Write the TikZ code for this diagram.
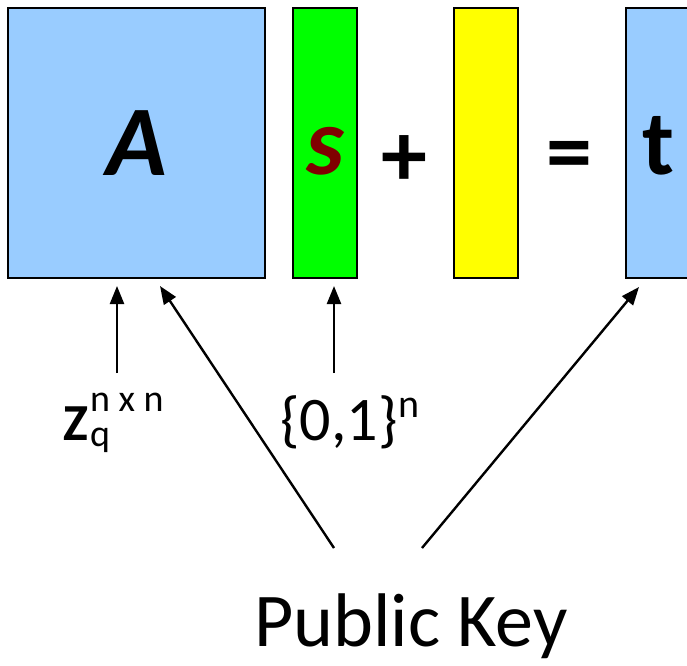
\documentclass[tikz,border=0pt]{standalone}
\usepackage{fontspec}
\setmainfont{Carlito}
\usetikzlibrary{arrows.meta}
\definecolor{matblue}{HTML}{99CCFF}
\definecolor{vecgreen}{HTML}{00FF00}
\definecolor{vecyellow}{HTML}{FFFF00}
\definecolor{secred}{HTML}{800000}
\newcommand{\smallfs}{\fontsize{38}{38}\selectfont}
\tikzset{
  block/.style={draw=black, line width=2.2pt},
  sym/.style={inner sep=0pt},
  lbl/.style={inner sep=0pt, anchor=base west},
  up/.style={line width=2.4pt, -{Triangle[length=18pt,width=14pt]}}
}
\begin{document}
\begin{tikzpicture}[x=1pt,y=-1pt]
\useasboundingbox (0,0) rectangle (687,665);
% matrix, secret, error and result
\draw[block, fill=matblue] (8,8) rectangle (265,278);
\draw[block, fill=vecgreen] (293,8) rectangle (357,278);
\draw[block, fill=vecyellow] (454,8) rectangle (518,278);
\draw[block, fill=matblue] (626,8) rectangle (720,278);
\node[sym, font=\fontsize{100}{100}\selectfont\bfseries\itshape] (A) at (137,143) {A};
\node[sym, text=secred, font=\fontsize{96}{96}\selectfont\bfseries\itshape] (s) at (325,151) {s};
\node[sym, font=\fontsize{92}{92}\selectfont\bfseries] (plus) at (404,161) {+};
\node[sym, font=\fontsize{92}{92}\selectfont\bfseries] (eq) at (569,162) {=};
\node[sym, font=\fontsize{92}{92}\selectfont\bfseries] (t) at (658,146) {t};
% labels
\node[lbl, font=\fontsize{52}{52}\selectfont] (Z) at (63,440)
  {\textbf{Z}\kern2pt\rlap{\raisebox{-6pt}{\smallfs q}}\raisebox{29pt}{\smallfs n x n}};
\node[lbl, font=\fontsize{62}{62}\selectfont] (bits) at (280,440)
  {\{0,1\}\kern1pt\raisebox{23pt}{\fontsize{40}{40}\selectfont n}};
\node[lbl, anchor=base, font=\fontsize{76}{76}\selectfont] (pk) at (411,646) {Public Key};
% connectors
\coordinate (zt) at (117,373);
\coordinate (zh) at (117,286);
\coordinate (bt) at (334,373);
\coordinate (bh) at (334,286);
\coordinate (pl) at (334,548);
\coordinate (pr) at (422,548);
\coordinate (ah) at (160,286);
\coordinate (th) at (639,287);
\draw[up] (zt) -- (zh);
\draw[up] (bt) -- (bh);
\draw[up] (pl) -- (ah);
\draw[up] (pr) -- (th);
\end{tikzpicture}
\end{document}
